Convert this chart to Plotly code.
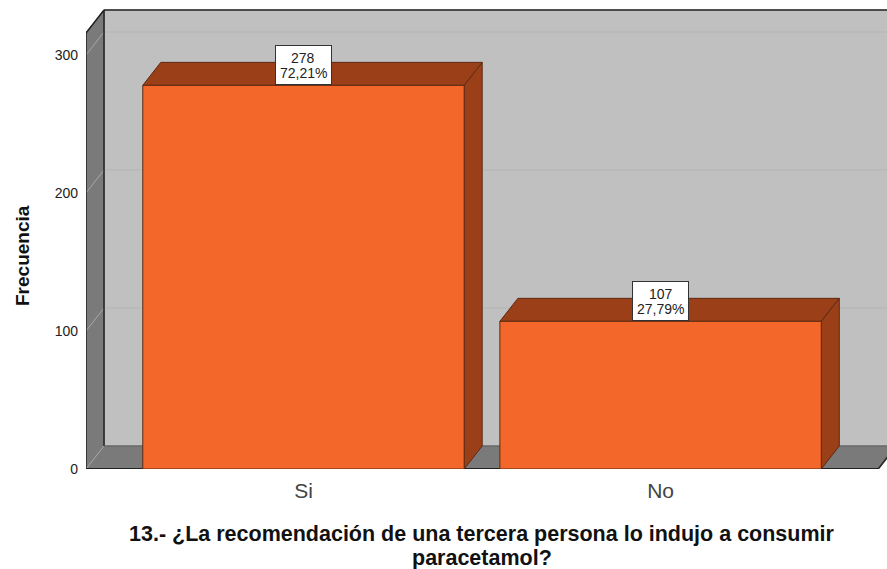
import plotly.graph_objects as go

categories = ["Si", "No"]
frequencies = [278, 107]
percents = ["72,21%", "27,79%"]
y_ticks = [0, 100, 200, 300]
title_lines = ["13.- ¿La recomendación de una tercera persona lo indujo a consumir", "paracetamol?"]

FONT = "Liberation Sans"
FIG_W = 887
FIG_H = 569
PLOT_H = 469
PLOT_L = 86
PX_X = 357.0   # pixels per category
PX_Y = 1.38    # pixels per unit of frequency
BAR_W = 0.9
DX = 18 / PX_X  # fake 3D depth, in data units
DY = 23 / PX_Y
X0 = -0.609
X1 = 1.634
Y_MAX = PLOT_H / PX_Y
WALL_TOP = 316
FLOOR_END = 1.6095

WALL_DARK = "#7a7a7a"
WALL_BACK = "#c0c0c0"
EDGE = "#222222"
BAR_FRONT = "#f4672a"
BAR_SHADE = "#9a3f18"
BAR_EDGE = "#5c2a12"
TEXT = "#222222"


def poly(points, fill, line=None, width=1):
    path = "M " + " L ".join(f"{x},{y}" for x, y in points) + " Z"
    return dict(type="path", path=path, xref="x", yref="y", layer="below",
                fillcolor=fill, line=dict(color=line or fill, width=width))


def seg(x0, y0, x1, y1, color, width=1):
    return dict(type="line", x0=x0, y0=y0, x1=x1, y1=y1, xref="x", yref="y",
                layer="below", line=dict(color=color, width=width))


shapes = [
    # back wall, left wall, floor
    poly([(X0 + DX, DY), (X1 + 1, DY), (X1 + 1, WALL_TOP + DY), (X0 + DX, WALL_TOP + DY)], WALL_BACK),
    poly([(X0, 0), (X0 + DX, DY), (X0 + DX, WALL_TOP + DY), (X0, WALL_TOP)], WALL_DARK),
    poly([(X0, 0), (FLOOR_END, 0), (FLOOR_END + DX, DY), (X0 + DX, DY)], WALL_DARK),
]

# gridlines run across the back wall and slant down the left wall
for t in y_ticks:
    if t > 0:
        shapes.append(seg(X0 + DX, t + DY, X1, t + DY, "#b4b4b4", 1))
    shapes.append(seg(X0, t, X0 + DX, t + DY, "#a8a8a8", 1))

shapes += [
    seg(X0 + DX, WALL_TOP + DY, X1, WALL_TOP + DY, EDGE, 1.5),
    seg(X0 + DX, DY, X0 + DX, WALL_TOP + DY, EDGE, 1.5),
    seg(X0, WALL_TOP, X0 + DX, WALL_TOP + DY, EDGE, 1.5),
    seg(X0, 0, X0, WALL_TOP, EDGE, 1.5),
    seg(X0 + DX, DY, FLOOR_END + DX, DY, "#5f5f5f", 1),
    seg(X0, 0, FLOOR_END, 0, EDGE, 2),
    seg(FLOOR_END, 0, FLOOR_END + DX, DY, EDGE, 1.5),
]

# top and side faces of the bars follow the values
for i, v in enumerate(frequencies):
    left = i - BAR_W / 2
    right = i + BAR_W / 2
    shapes.append(poly([(left, v), (right, v), (right + DX, v + DY), (left + DX, v + DY)], BAR_SHADE, BAR_EDGE))
    shapes.append(poly([(right, 0), (right + DX, DY), (right + DX, v + DY), (right, v)], BAR_SHADE, BAR_EDGE))

fig = go.Figure(go.Bar(
    x=categories,
    y=frequencies,
    width=BAR_W,
    marker=dict(color=BAR_FRONT, line=dict(color=BAR_EDGE, width=1)),
    hoverinfo="skip",
))

annotations = []
for c, v, p in zip(categories, frequencies, percents):
    # empty white box, then the two lines closer together than plotly's line height
    annotations.append(dict(x=c, y=v, xref="x", yref="y", text="&nbsp;", showarrow=False,
                            yanchor="bottom", bgcolor="white", bordercolor="#333333", borderwidth=1,
                            borderpad=0, width=55, height=38, font=dict(family=FONT, size=14)))
    for label, shift in ((str(v), 17), (p, 2)):
        annotations.append(dict(x=c, y=v, xref="x", yref="y", text=label, showarrow=False,
                                yanchor="bottom", yshift=shift,
                                font=dict(family=FONT, size=14, color=TEXT)))

annotations.append(dict(
    x=0, y=(PLOT_H - 256) / PLOT_H, xref="paper", yref="paper", xshift=22 - PLOT_L, xanchor="center",
    text="<b>Frecuencia</b>", textangle=-90, showarrow=False,
    font=dict(family=FONT, size=19, color="#111111"),
))
for line, y_px in zip(title_lines, (533.5, 557.5)):
    annotations.append(dict(
        x=(482 - PLOT_L) / (FIG_W - PLOT_L), y=(PLOT_H - y_px) / PLOT_H, xref="paper", yref="paper",
        yanchor="middle", text=f"<b>{line}</b>", showarrow=False,
        font=dict(family=FONT, size=21.5, color="#111111"),
    ))

fig.update_layout(
    width=FIG_W,
    height=FIG_H,
    margin=dict(l=PLOT_L, r=0, t=0, b=FIG_H - PLOT_H),
    paper_bgcolor="white",
    plot_bgcolor="white",
    showlegend=False,
    bargap=0.1,
    shapes=shapes,
    annotations=annotations,
    xaxis=dict(range=[X0, X1], type="category", categoryorder="array", categoryarray=categories,
               showgrid=False, zeroline=False, ticks="", ticklabelstandoff=7,
               tickfont=dict(family=FONT, size=21, color="#444444")),
    yaxis=dict(range=[0, Y_MAX], tickvals=y_ticks, showgrid=False, zeroline=False, ticks="",
               ticklabelstandoff=7, tickfont=dict(family=FONT, size=14, color=TEXT)),
)

# drop the browser's default body margin so the figure fills the window
fig.write_html("out.html", config=dict(displayModeBar=False),
               post_script="document.body.style.margin='0';document.body.style.overflow='hidden';")
